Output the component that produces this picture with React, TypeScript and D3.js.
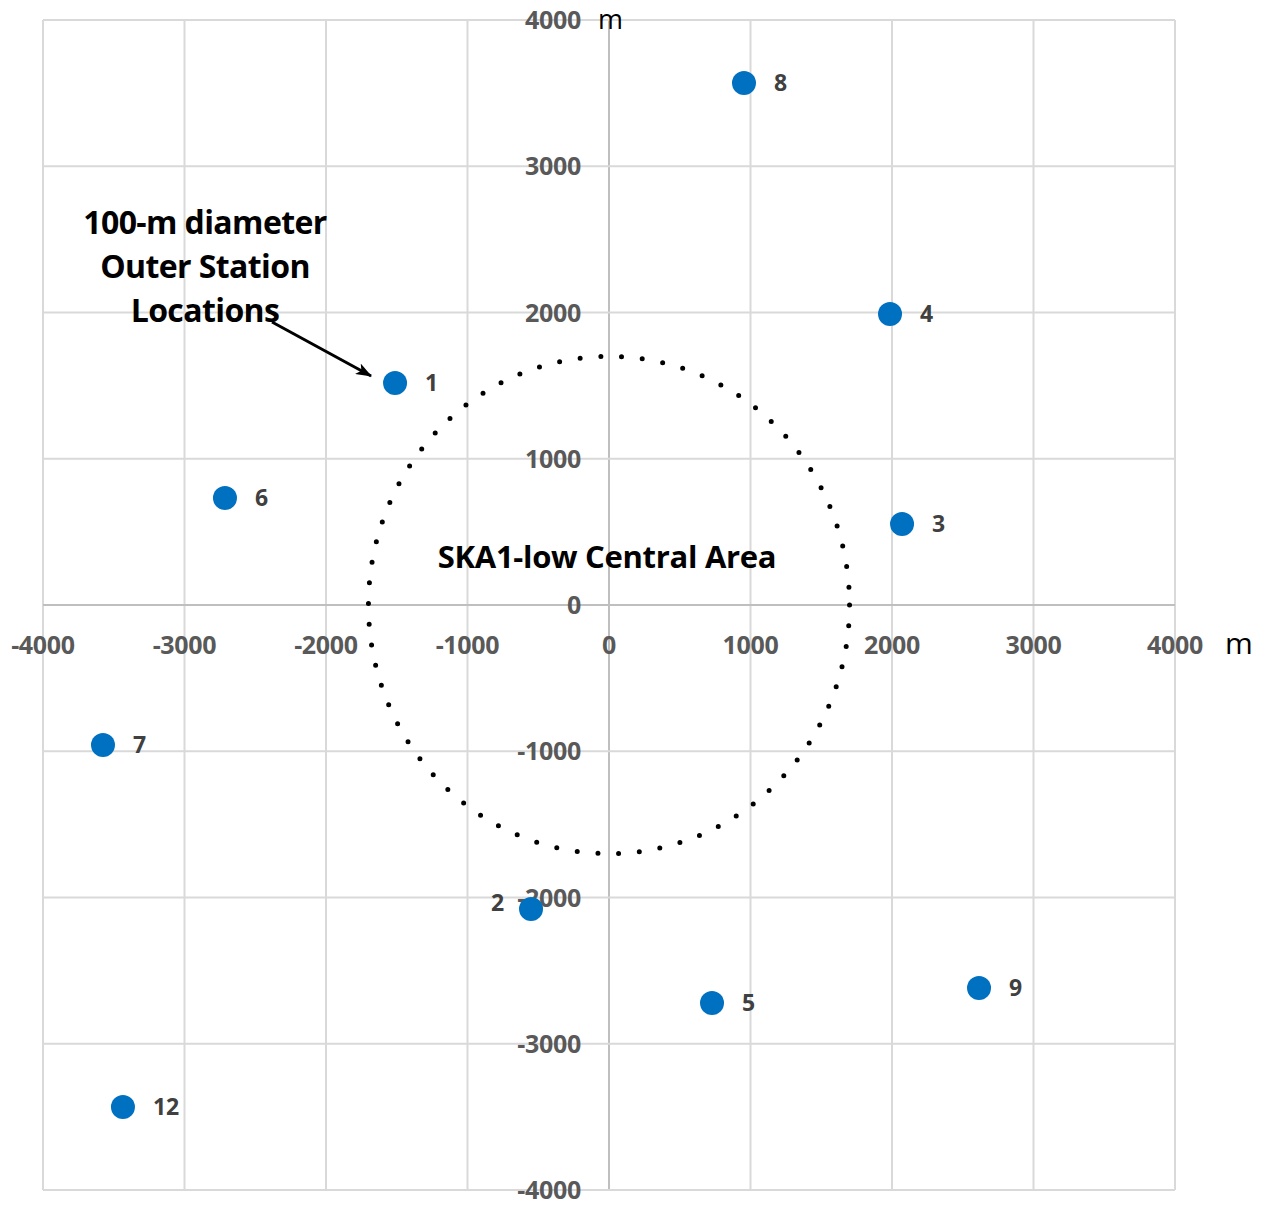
import React from "react";
import * as d3 from "d3";

const stationIds = ["1", "2", "3", "4", "5", "6", "7", "8", "9", "12"];
const stationX = [-1512, -551, 2071, 1986, 728, -2714, -3576, 954, 2615, -3435];
const stationY = [1518, -2079, 554, 1990, -2721, 732, -957, 3569, -2619, -3432];
const labelSide = ["right", "left", "right", "right", "right", "right", "right", "right", "right", "right"];
const tickValues = [-4000, -3000, -2000, -1000, 0, 1000, 2000, 3000, 4000];
const centralRadius = 1700;
const annotationLines = ["100-m diameter", "Outer Station", "Locations"];
const centralLabel = "SKA1-low Central Area";
const unitLabel = "m";

const W = 1269;
const H = 1205;
const FONT = "'Open Sans', 'Noto Sans', sans-serif";

export default function App() {
  const x = d3.scaleLinear().domain([-4000, 4000]).range([43, 1175]);
  const y = d3.scaleLinear().domain([-4000, 4000]).range([1190, 20]);
  const x0 = x(0);
  const y0 = y(0);
  const rx = x(centralRadius) - x0;
  const ry = y0 - y(centralRadius);

  const annX = 205;
  const arrowStart: [number, number] = [272, 322];
  const arrowEnd: [number, number] = [x(stationX[0]) - 24, y(stationY[0]) - 7];

  return (
    <div style={{ position: "absolute", left: 0, top: 0 }}>
      <svg width={W} height={H} style={{ display: "block", background: "#fff" }}>
        <defs>
          <marker id="arr" viewBox="0 0 16 12" refX="15" refY="6" markerWidth="16" markerHeight="12" markerUnits="userSpaceOnUse" orient="auto">
            <path d="M0,0 L16,6 L0,12 L4,6 Z" fill="#000" />
          </marker>
        </defs>
        {/* grid */}
        {tickValues.map((t) => (
          <line key={"gv" + t} x1={x(t)} x2={x(t)} y1={y(4000)} y2={y(-4000)} stroke={t === 0 ? "#bfbfbf" : "#d9d9d9"} strokeWidth={2} />
        ))}
        {tickValues.map((t) => (
          <line key={"gh" + t} y1={y(t)} y2={y(t)} x1={x(-4000)} x2={x(4000)} stroke={t === 0 ? "#bfbfbf" : "#d9d9d9"} strokeWidth={2} />
        ))}
        {/* y tick labels */}
        {tickValues.map((t) => (
          <text key={"yl" + t} x={x0 - 28} y={y(t)} dy="0.36em" textAnchor="end" fontFamily={FONT} fontWeight="bold" fontSize={25} fill="#595959" letterSpacing={-0.3}>
            {t}
          </text>
        ))}
        {/* x tick labels */}
        {tickValues.map((t) => (
          <text key={"xl" + t} x={x(t)} y={y0 + 40} dy="0.36em" textAnchor="middle" fontFamily={FONT} fontWeight="bold" fontSize={25} fill="#595959" letterSpacing={-0.3}>
            {t}
          </text>
        ))}
        {/* units */}
        <text x={x0 - 11} y={29} fontFamily={FONT} fontSize={27} fill="#000">{unitLabel}</text>
        <text x={x(4000) + 50} y={y0 + 40} dy="0.3em" fontFamily={FONT} fontSize={30} fill="#000">{unitLabel}</text>
        {/* central area dotted circle */}
        <ellipse cx={x0} cy={y0} rx={rx} ry={ry} fill="none" stroke="#000" strokeWidth={5} strokeLinecap="round" strokeDasharray="0 20.8" />
        <text x={x0 - 2} y={y(330)} dy="0.36em" textAnchor="middle" fontFamily={FONT} fontWeight="bold" fontSize={31} fill="#000" letterSpacing={-0.3}>
          {centralLabel}
        </text>
        {/* stations */}
        {stationIds.map((id, i) => (
          <g key={id}>
            <circle cx={x(stationX[i])} cy={y(stationY[i])} r={12} fill="#0070c0" />
            <text
              x={labelSide[i] === "right" ? x(stationX[i]) + 30 : x(stationX[i]) - 40}
              y={labelSide[i] === "right" ? y(stationY[i]) : y(stationY[i]) - 6}
              dy="0.36em"
              textAnchor="start"
              fontFamily={FONT}
              fontWeight="bold"
              fontSize={23}
              fill="#404040"
            >
              {id}
            </text>
          </g>
        ))}
        {/* annotation */}
        {annotationLines.map((l, i) => (
          <text key={l} x={annX} y={222 + i * 44} dy="0.36em" textAnchor="middle" fontFamily={FONT} fontWeight="bold" fontSize={32} fill="#000" letterSpacing={-0.6}>
            {l}
          </text>
        ))}
        <line x1={arrowStart[0]} y1={arrowStart[1]} x2={arrowEnd[0]} y2={arrowEnd[1]} stroke="#000" strokeWidth={3} markerEnd="url(#arr)" />
      </svg>
    </div>
  );
}
